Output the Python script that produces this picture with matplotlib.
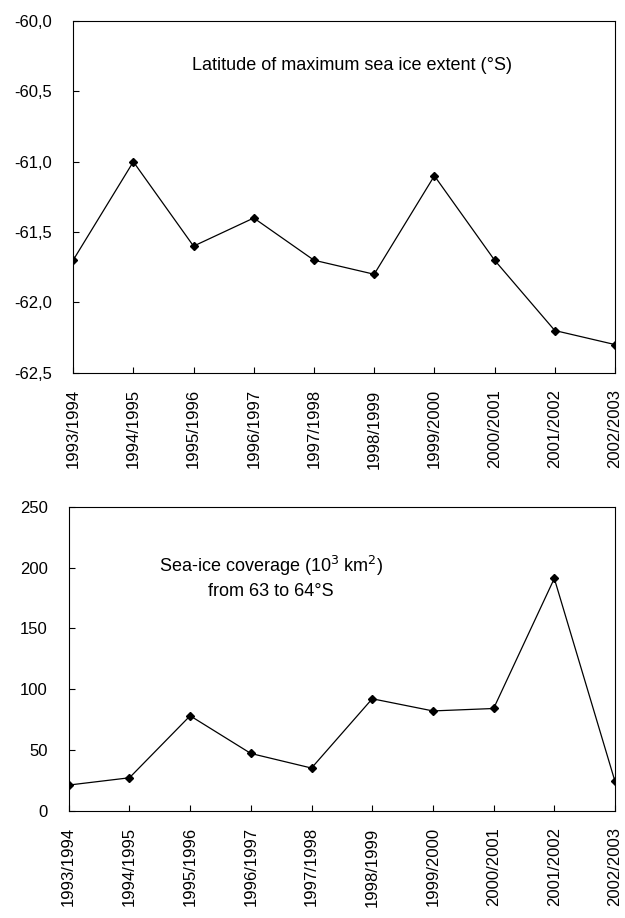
import numpy as np
import matplotlib.pyplot as plt

plt.rcParams['font.family'] = ['Liberation Sans', 'DejaVu Sans']

seasons = ['1993/1994', '1994/1995', '1995/1996', '1996/1997', '1997/1998',
           '1998/1999', '1999/2000', '2000/2001', '2001/2002', '2002/2003']
latitude = [-61.7, -61.0, -61.6, -61.4, -61.7, -61.8, -61.1, -61.7, -62.2, -62.3]
coverage = [21, 27, 78, 47, 35, 92, 82, 84, 191, 24]

fig = plt.figure(figsize=(6.25, 9.18), dpi=100)
ax1 = fig.add_axes([0.117, 0.594, 0.867, 0.383])
ax2 = fig.add_axes([0.110, 0.117, 0.874, 0.331])

x = np.arange(len(seasons))
for ax, vals in ((ax1, latitude), (ax2, coverage)):
    ax.plot(x, vals, color='black', lw=0.9, marker='D', ms=4.5)
    ax.set_xlim(0, len(seasons) - 1)
    ax.set_xticks(x)
    ax.set_xticklabels(seasons, rotation=90, fontsize=12)
    ax.tick_params(direction='in', labelsize=12, length=4)
    ax.tick_params(axis='x', pad=12)
    ax.tick_params(axis='y', pad=15)

ax1.set_ylim(-62.5, -60.0)
yt = np.arange(-62.5, -59.99, 0.5)
ax1.set_yticks(yt)
ax1.set_yticklabels([f'{v:.1f}'.replace('.', ',') for v in yt])
ax1.text(0.515, 0.875, 'Latitude of maximum sea ice extent (°S)', transform=ax1.transAxes,
         ha='center', va='center', fontsize=13)

ax2.set_ylim(0, 250)
ax2.set_yticks(range(0, 251, 50))
ax2.text(0.37, 0.77, 'Sea-ice coverage (10$^3$ km$^2$)\nfrom 63 to 64°S', transform=ax2.transAxes,
         ha='center', va='center', fontsize=13, linespacing=1.4)

fig.savefig('out.png', dpi=100)
